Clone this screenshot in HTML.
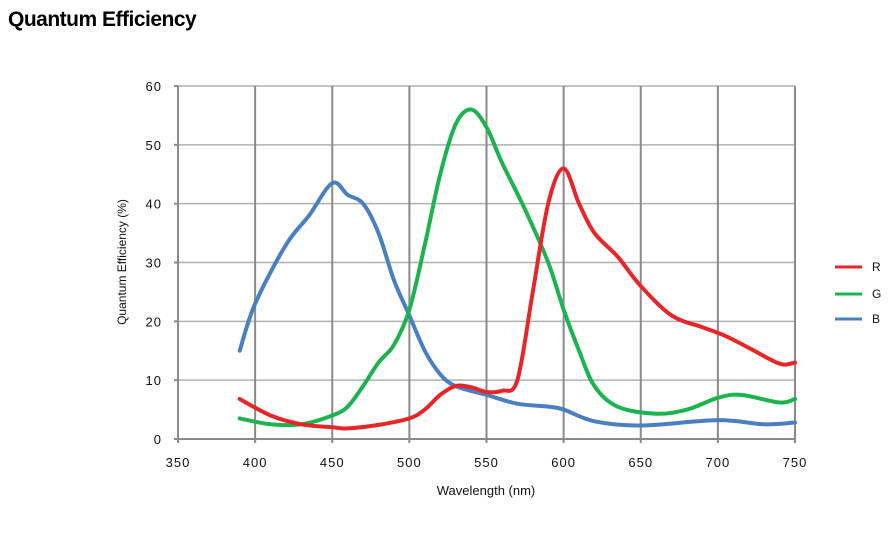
<!DOCTYPE html><html><head><style>body{margin:0;background:#fff;width:892px;height:540px;overflow:hidden;font-family:"Liberation Sans",sans-serif}</style></head><body>
<svg id="s" width="892" height="540" xmlns="http://www.w3.org/2000/svg" font-family="Liberation Sans, sans-serif">
<text x="8" y="26" font-size="21" font-weight="bold" fill="#000" letter-spacing="-0.5">Quantum Efficiency</text>
<g id="grid"></g>
<text x="486" y="495" font-size="13" text-anchor="middle" fill="#111">Wavelength (nm)</text>
<text transform="translate(126,262) rotate(-90)" font-size="12" text-anchor="middle" fill="#111">Quantum Efficiency  (%)</text>
<g id="curves" fill="none" stroke-width="4" stroke-linecap="round" stroke-linejoin="round"></g>
<g font-size="12" fill="#111">
<line x1="835" y1="267" x2="862" y2="267" stroke="#e8262a" stroke-width="3"/><text x="872" y="271">R</text>
<line x1="835" y1="294" x2="862" y2="294" stroke="#1db34f" stroke-width="3"/><text x="872" y="298">G</text>
<line x1="835" y1="319" x2="862" y2="319" stroke="#4a7fc1" stroke-width="3"/><text x="872" y="323">B</text>
</g>
</svg>
<script>
const X=n=>178+(n-350)*1.5425, Y=v=>439-v*5.883;
let g='';
for(let v=10;v<=60;v+=10)g+=`<line x1="178" y1="${Y(v)}" x2="795" y2="${Y(v)}" stroke="#b0b0b0" stroke-width="1.5"/>`;
for(let n=400;n<=750;n+=50)g+=`<line x1="${X(n)}" y1="86" x2="${X(n)}" y2="443" stroke="#8a8a8a" stroke-width="2"/>`;
g+=`<line x1="178" y1="86" x2="178" y2="443" stroke="#8a8a8a" stroke-width="2"/><line x1="174" y1="439" x2="795" y2="439" stroke="#8a8a8a" stroke-width="2"/>`;
for(let v=0;v<=60;v+=10)g+=`<line x1="174" y1="${Y(v)}" x2="178" y2="${Y(v)}" stroke="#8a8a8a" stroke-width="2"/><text x="162" y="${Y(v)+5}" font-size="13" text-anchor="end" fill="#111" letter-spacing="1">${v}</text>`;
for(let n=350;n<=750;n+=50)g+=`<text x="${X(n)}" y="467" font-size="13" text-anchor="middle" fill="#111" letter-spacing="1">${n}</text>`;
document.getElementById('grid').innerHTML=g;
function path(p){p=p.map(a=>[X(a[0]),Y(a[1])]);let d=`M${p[0][0]},${p[0][1]}`;
for(let i=0;i<p.length-1;i++){const p0=p[i-1]||p[i],p1=p[i],p2=p[i+1],p3=p[i+2]||p2;
d+=` C${p1[0]+(p2[0]-p0[0])/6},${p1[1]+(p2[1]-p0[1])/6} ${p2[0]-(p3[0]-p1[0])/6},${p2[1]-(p3[1]-p1[1])/6} ${p2[0]},${p2[1]}`;}return d;}
const B=[[390,15],[400,23],[420,33],[435,38],[450,43.5],[460,41.5],[470,40],[480,35],[490,27],[500,21],[510,15],[520,11],[530,9],[550,7.5],[570,6],[590,5.5],[600,5],[620,3],[650,2.3],[700,3.2],[730,2.5],[750,2.8]];
const G=[[390,3.5],[410,2.5],[430,2.5],[450,4],[460,5.5],[470,9],[480,13],[490,16],[500,22],[510,33],[520,45],[530,53.5],[540,56],[550,53],[560,47],[575,39],[590,30],[600,22],[610,15],[620,9],[635,5.5],[660,4.3],[680,5],[700,7],[715,7.5],[740,6.2],[750,6.8]];
const R=[[390,6.8],[410,4],[430,2.5],[450,2],[460,1.8],[480,2.4],[500,3.5],[510,5],[520,7.5],[530,9],[540,8.8],[550,8],[560,8.2],[570,10],[580,25],[590,40],[600,46],[610,40],[620,35],[635,31],[650,26],[670,21],[690,19],[705,17.5],[720,15.5],[740,12.8],[750,13]];
document.getElementById('curves').innerHTML=`<path d="${path(B)}" stroke="#4a7fc1"/><path d="${path(G)}" stroke="#1db34f"/><path d="${path(R)}" stroke="#e8262a"/>`;
</script>
</body></html>
